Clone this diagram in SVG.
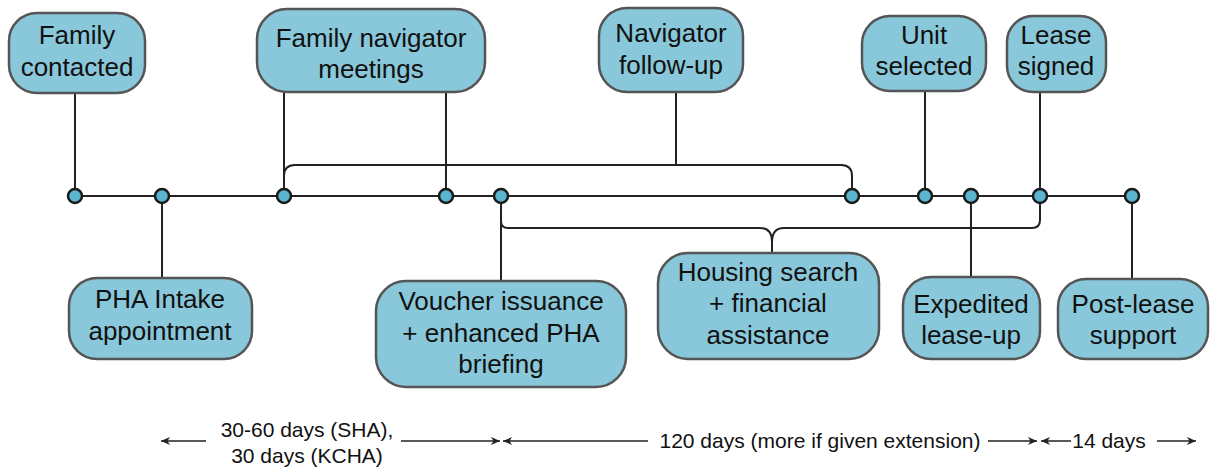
<svg xmlns="http://www.w3.org/2000/svg" width="1213" height="468" viewBox="0 0 1213 468">
<defs>
<style>
.box{fill:#89c8da;stroke:#555;stroke-width:2.5}
.t{font-family:"Liberation Sans",Arial,sans-serif;font-size:26px;fill:#111;text-anchor:middle}
.b{font-family:"Liberation Sans",Arial,sans-serif;font-size:21px;fill:#111;text-anchor:middle}
.c{fill:none;stroke:#222;stroke-width:2}
.dot{fill:#5ab4d0;stroke:#1a1a1a;stroke-width:2.5}
.ar{fill:none;stroke:#222;stroke-width:1.5;marker-end:url(#ah)}
</style>
<marker id="ah" markerUnits="userSpaceOnUse" markerWidth="10" markerHeight="9" refX="9" refY="4" orient="auto">
<path d="M0,0 L9,4 L0,8 L2.5,4 z" fill="#222"/>
</marker>
</defs>
<rect width="1213" height="468" fill="#fff"/>
<g id="connectors">
<line class="c" x1="75" y1="196" x2="1132" y2="196"/>
<line class="c" x1="284" y1="196" x2="852" y2="196" stroke-width="3.5"/>
<line class="c" x1="75" y1="93" x2="75" y2="196"/>
<line class="c" x1="284" y1="92" x2="284" y2="196"/>
<line class="c" x1="446" y1="92" x2="446" y2="196"/>
<line class="c" x1="676" y1="92" x2="676" y2="165"/>
<path class="c" d="M284,189 L284,176 Q284,165 295,165 L841,165 Q852,165 852,176 L852,189"/>
<line class="c" x1="925" y1="91" x2="925" y2="196"/>
<line class="c" x1="1040" y1="92" x2="1040" y2="196"/>
<line class="c" x1="162" y1="196" x2="162" y2="278"/>
<line class="c" x1="501" y1="196" x2="501" y2="281"/>
<path class="c" d="M501,203 L501,221 Q501,228 508,228 L760,228 C768,228 772,232 772,242 C772,232 776,228 784,228 L1032,228 Q1040,228 1040,220 L1040,203"/>
<line class="c" x1="772" y1="241" x2="772" y2="253"/>
<line class="c" x1="971" y1="196" x2="971" y2="277"/>
<line class="c" x1="1132" y1="196" x2="1132" y2="279"/>
<line class="ar" x1="206" y1="441" x2="161" y2="441"/>
<line class="ar" x1="401" y1="441" x2="500" y2="441"/>
<line class="ar" x1="648" y1="441" x2="503" y2="441"/>
<line class="ar" x1="988" y1="441" x2="1037" y2="441"/>
<line class="ar" x1="1071" y1="441" x2="1041" y2="441"/>
<line class="ar" x1="1157" y1="441" x2="1196" y2="441"/>
</g>
<g id="dots">
<circle class="dot" cx="75" cy="196" r="7"/>
<circle class="dot" cx="162" cy="196" r="7"/>
<circle class="dot" cx="284" cy="196" r="7"/>
<circle class="dot" cx="446" cy="196" r="7"/>
<circle class="dot" cx="501" cy="196" r="7"/>
<circle class="dot" cx="852" cy="196" r="7"/>
<circle class="dot" cx="925" cy="196" r="7"/>
<circle class="dot" cx="971" cy="196" r="7"/>
<circle class="dot" cx="1040" cy="196" r="7"/>
<circle class="dot" cx="1132" cy="196" r="7"/>
</g>
<g id="family-contacted">
<rect class="box" x="9" y="13" width="136" height="80" rx="28"/>
<text class="t" x="77" y="44">Family</text>
<text class="t" x="77" y="76">contacted</text>
</g>
<g id="family-navigator-meetings">
<rect class="box" x="257" y="9" width="228" height="83" rx="30"/>
<text class="t" x="371" y="47">Family navigator</text>
<text class="t" x="371" y="78">meetings</text>
</g>
<g id="navigator-follow-up">
<rect class="box" x="599" y="8" width="144" height="84" rx="28"/>
<text class="t" x="671" y="42">Navigator</text>
<text class="t" x="671" y="74">follow-up</text>
</g>
<g id="unit-selected">
<rect class="box" x="862" y="16" width="124" height="75" rx="28"/>
<text class="t" x="924" y="44">Unit</text>
<text class="t" x="924" y="75">selected</text>
</g>
<g id="lease-signed">
<rect class="box" x="1007" y="16" width="99" height="76" rx="26"/>
<text class="t" x="1056" y="44">Lease</text>
<text class="t" x="1056" y="75">signed</text>
</g>
<g id="pha-intake">
<rect class="box" x="69" y="278" width="183" height="81" rx="28"/>
<text class="t" x="160" y="308">PHA Intake</text>
<text class="t" x="160" y="340">appointment</text>
</g>
<g id="voucher-issuance">
<rect class="box" x="376" y="281" width="250" height="106" rx="30"/>
<text class="t" x="501" y="310">Voucher issuance</text>
<text class="t" x="501" y="342">+ enhanced PHA</text>
<text class="t" x="501" y="373">briefing</text>
</g>
<g id="housing-search">
<rect class="box" x="658" y="253" width="221" height="106" rx="30"/>
<text class="t" x="768" y="281">Housing search</text>
<text class="t" x="768" y="312">+ financial</text>
<text class="t" x="768" y="344">assistance</text>
</g>
<g id="expedited-lease-up">
<rect class="box" x="903" y="277" width="137" height="82" rx="28"/>
<text class="t" x="971" y="313">Expedited</text>
<text class="t" x="971" y="344">lease-up</text>
</g>
<g id="post-lease-support">
<rect class="box" x="1058" y="279" width="150" height="80" rx="28"/>
<text class="t" x="1133" y="313">Post-lease</text>
<text class="t" x="1133" y="344">support</text>
</g>
<g id="durations">
<text class="b" x="307" y="437">30-60 days (SHA),</text>
<text class="b" x="307" y="463">30 days (KCHA)</text>
<text class="b" x="820" y="448">120 days (more if given extension)</text>
<text class="b" x="1109" y="448">14 days</text>
</g>
</svg>
